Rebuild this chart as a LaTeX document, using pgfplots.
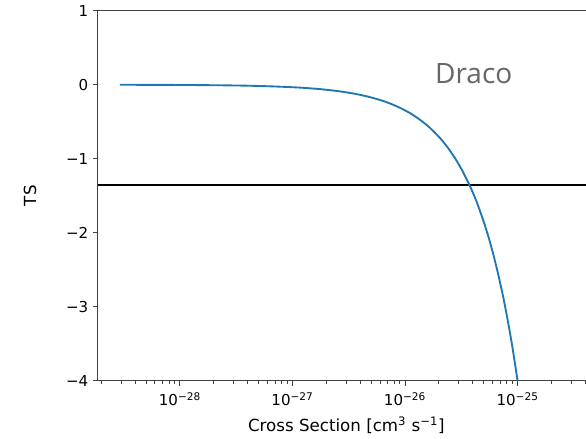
\documentclass[border=0pt]{standalone}
\usepackage{fontspec}
\setmainfont{DejaVu Sans}
\newfontfamily\dracofont{Open Sans}
\usepackage{pgfplots}
\pgfplotsset{compat=1.18}
\definecolor{mplblue}{HTML}{1F77B4}
\definecolor{dracogray}{HTML}{666666}
\begin{document}
\begin{tikzpicture}
\begin{axis}[
  scale only axis, width=366pt, height=277.7pt,
  xmode=log, xmin=1.87e-29, xmax=4.05e-25, ymin=-4, ymax=1,
  axis x line*=bottom, axis y line*=left,
  axis line style={-, black!75, line width=0.7pt},
  tick align=outside, major tick length=3.75pt, minor tick length=2.2pt,
  tick style={black!75, line width=0.7pt},
  xtick={1e-28,1e-27,1e-26,1e-25},
  xticklabels={10\textsuperscript{−28},10\textsuperscript{−27},10\textsuperscript{−26},10\textsuperscript{−25}},
  minor xtick={2e-29,3e-29,4e-29,5e-29,6e-29,7e-29,8e-29,9e-29,
               2e-28,3e-28,4e-28,5e-28,6e-28,7e-28,8e-28,9e-28,
               2e-27,3e-27,4e-27,5e-27,6e-27,7e-27,8e-27,9e-27,
               2e-26,3e-26,4e-26,5e-26,6e-26,7e-26,8e-26,9e-26,
               2e-25,3e-25,4e-25},
  ytick={-4,-3,-2,-1,0,1},
  yticklabels={−4,−3,−2,−1,0,1},
  ticklabel style={font=\fontsize{11.3}{13}\selectfont},
  xticklabel style={yshift=-1.5pt},
  xlabel={Cross Section [cm\textsuperscript{3} s\textsuperscript{−1}]},
  ylabel={TS},
  every axis x label/.style={at={(axis description cs:0.509,0)}, yshift=-38pt, anchor=base, font=\fontsize{12.5}{15}\selectfont},
  every axis y label/.style={at={(axis description cs:0,0.5)}, xshift=-51pt, rotate=90, anchor=center, font=\fontsize{12.5}{15}\selectfont},
]
\addplot[black, line width=1.3pt] coordinates {(1.87e-29,-1.35) (4.05e-25,-1.35)};
\addplot[mplblue, line width=1.4pt, smooth, tension=0.4] coordinates {
(2.93e-29,-0.001) (6e-29,-0.002) (1.2e-28,-0.004) (2.5e-28,-0.0085)
(4.2e-28,-0.014) (7e-28,-0.024) (1.16e-27,-0.039) (1.8e-27,-0.061)
(2.64e-27,-0.090) (3.5e-27,-0.120) (4.55e-27,-0.156) (5.97e-27,-0.205)
(7.4e-27,-0.255) (8.99e-27,-0.311) (1.1e-26,-0.381) (1.355e-26,-0.472)
(1.65e-26,-0.577) (2.04e-26,-0.718) (2.4e-26,-0.850) (2.77e-26,-0.988)
(3.2e-26,-1.15) (3.77e-26,-1.367) (4.3e-26,-1.57) (4.94e-26,-1.826)
(5.5e-26,-2.05) (6.07e-26,-2.285) (6.7e-26,-2.55) (7.44e-26,-2.862)
(8.1e-26,-3.15) (8.83e-26,-3.47) (9.4e-26,-3.73) (1.0e-25,-4.0)
};
\node[font=\dracofont\fontsize{21}{24}\selectfont, text=dracogray, anchor=base, inner sep=0pt] at (rel axis cs:0.770,0.804) {Draco};
\end{axis}
\draw[black!75, line width=0.7pt] (current axis.north west) -- (current axis.north east);
\pgfresetboundingbox
\useasboundingbox ([xshift=-73.5pt,yshift=-43.5pt]current axis.south west) rectangle ([yshift=8pt]current axis.north east);
\end{tikzpicture}
\end{document}
